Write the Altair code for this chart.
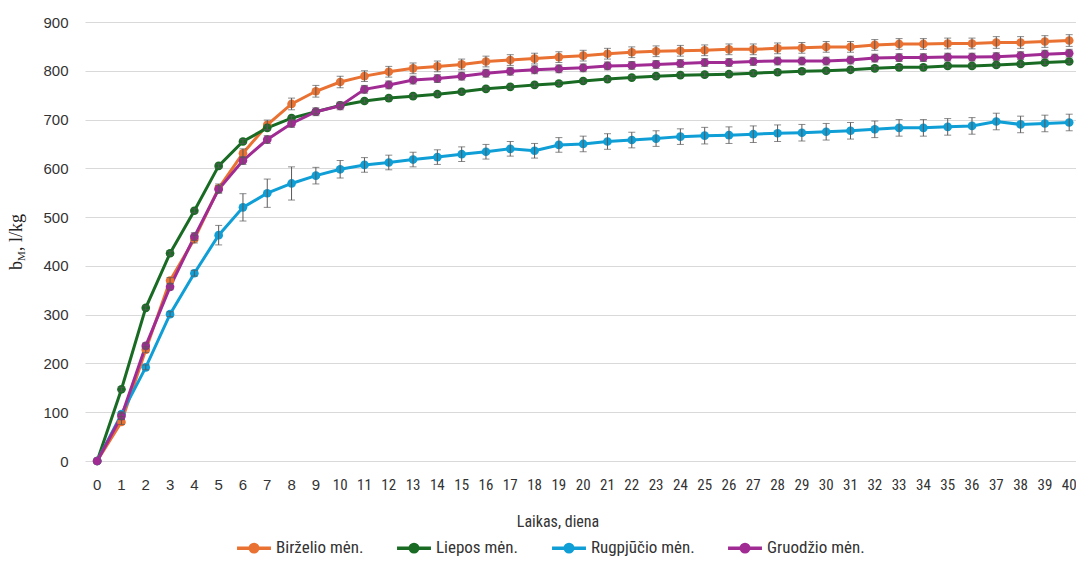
import altair as alt
import pandas as pd

days = list(range(41))
series_names = ["Birželio mėn.", "Liepos mėn.", "Rugpjūčio mėn.", "Gruodžio mėn."]
series_colors = ["#E97132", "#196B24", "#0F9ED5", "#A02B93"]

birzelio = [0, 80, 228, 370, 455, 559, 631, 689, 732, 758, 777, 789, 798, 805, 809,
            813, 819, 822, 825, 828, 831, 835, 838, 840, 841, 842, 844, 844, 846, 847,
            849, 849, 853, 855, 855, 856, 856, 858, 858, 860, 862]
liepos = [0, 147, 314, 426, 513, 605, 655, 683, 703, 716, 729, 738, 744, 748, 752,
          757, 763, 767, 771, 774, 779, 783, 786, 789, 791, 792, 793, 795, 797, 799,
          800, 802, 805, 807, 807, 810, 810, 812, 814, 817, 819]
rugpjucio = [0, 96, 192, 301, 385, 463, 520, 549, 569, 585, 598, 607, 612, 618, 623,
             629, 634, 640, 636, 648, 650, 655, 658, 661, 665, 667, 668, 670, 672, 673,
             675, 677, 680, 683, 683, 685, 687, 696, 690, 692, 694]
gruodzio = [0, 92, 236, 357, 460, 557, 616, 659, 692, 716, 728, 762, 771, 781, 784,
            789, 795, 799, 802, 804, 806, 810, 811, 813, 815, 817, 817, 819, 820, 820,
            820, 822, 826, 827, 827, 828, 828, 829, 831, 834, 836]

birzelio_err = [0, 5, 6, 6, 8, 9, 9, 10, 12, 12, 12, 11, 11, 11, 11, 11, 11, 11, 11, 11,
                11, 11, 11, 11, 11, 11, 11, 11, 11, 11, 11, 11, 11, 11, 11, 11, 11, 12, 12, 12, 12]
liepos_err = [0] + [4] * 40
rugpjucio_err = [0, 5, 5, 5, 6, 20, 28, 29, 34, 17, 18, 15, 15, 15, 15, 15, 15, 15, 15, 15,
                 16, 16, 16, 16, 16, 17, 17, 17, 17, 17, 17, 17, 17, 17, 17, 17, 17, 17, 17, 17, 17]
gruodzio_err = [0] + [6, 6, 6, 8] + [8] * 36

x_title = "Laikas, diena"
y_title_parts = ["b", "M", ", l/kg"]
y_ticks = [0, 100, 200, 300, 400, 500, 600, 700, 800, 900]

NARROW = "Liberation Sans Narrow, Roboto Condensed, DejaVu Sans Condensed, sans-serif"
REG = "Liberation Sans, Arial, sans-serif"
SERIF = "Liberation Serif"
TXT = "#333333"

rows = []
for name, vals, errs in zip(series_names,
                            [birzelio, liepos, rugpjucio, gruodzio],
                            [birzelio_err, liepos_err, rugpjucio_err, gruodzio_err]):
    for d, v, e in zip(days, vals, errs):
        rows.append({"day": d, "value": v, "lo": v - e, "hi": v + e, "series": name})
df = pd.DataFrame(rows)
df_err = df[df["hi"] > df["lo"]]

W, H = 991, 439
xscale = alt.Scale(domain=[-0.5, 40.28], nice=False, zero=False)
yscale = alt.Scale(domain=[0, 900], nice=False)
color = alt.Color(
    "series:N",
    scale=alt.Scale(domain=series_names, range=series_colors),
    sort=series_names,
    legend=alt.Legend(
        title=None, orient="none", legendX=150, legendY=507, direction="horizontal",
        columns=4, labelFont=NARROW, labelFontSize=17, labelColor=TXT,
        symbolType="M-1,0L1,0M-0.22,0A0.22,0.22,0,1,0,0.22,0A0.22,0.22,0,1,0,-0.22,0Z",
        symbolSize=1150, symbolStrokeWidth=3.5, columnPadding=26, labelOffset=3,
        symbolOpacity=1,
    ),
)

yaxis = alt.Axis(
    values=y_ticks, title=None, grid=True, gridColor="#D9D9D9", gridWidth=1.2,
    domain=False, ticks=False, labelFont=REG, labelFontSize=15, labelColor=TXT,
    labelPadding=17,
)

base = alt.Chart(df)
lines = base.mark_line(strokeWidth=3).encode(
    x=alt.X("day:Q", scale=xscale, axis=None),
    y=alt.Y("value:Q", scale=yscale, axis=yaxis),
    color=color,
    order="day:Q",
)
points = base.mark_point(filled=True, size=75, opacity=1).encode(
    x="day:Q", y="value:Q", color=color,
)
ebase = alt.Chart(df_err)
err_rule = ebase.mark_rule(color="#595959", strokeWidth=1).encode(
    x="day:Q", y="lo:Q", y2="hi:Q",
)
cap_lo = ebase.mark_tick(color="#595959", orient="horizontal", size=7, thickness=1).encode(
    x="day:Q", y="lo:Q",
)
cap_hi = ebase.mark_tick(color="#595959", orient="horizontal", size=7, thickness=1).encode(
    x="day:Q", y="hi:Q",
)

# x tick labels (days 0-9 regular, 10+ narrow, as in the reference)
lab_df = pd.DataFrame({"day": days, "lab": [str(d) for d in days]})
xlab_reg = alt.Chart(lab_df).transform_filter(alt.datum.day < 10).mark_text(
    font=REG, fontSize=15, color=TXT, baseline="middle", align="center"
).encode(x="day:Q", y=alt.value(H + 24), text="lab:N")
xlab_nar = alt.Chart(lab_df).transform_filter(alt.datum.day >= 10).mark_text(
    font=NARROW, fontSize=15, color=TXT, baseline="middle", align="center"
).encode(x="day:Q", y=alt.value(H + 24), text="lab:N")

xt_df = pd.DataFrame({"t": [x_title]})
xtitle = alt.Chart(xt_df).mark_text(
    font=NARROW, fontSize=16, color=TXT, baseline="middle", align="center"
).encode(text="t:N", x=alt.value(473), y=alt.value(H + 61))

t_df = pd.DataFrame({"t": y_title_parts})
t1 = alt.Chart(t_df).transform_filter(alt.datum.t == y_title_parts[0]).mark_text(
    angle=270, align="left", baseline="alphabetic", font=SERIF, fontSize=18, color="#222222"
).encode(text="t:N", x=alt.value(-63), y=alt.value(248))
t2 = alt.Chart(t_df).transform_filter(alt.datum.t == y_title_parts[1]).mark_text(
    angle=270, align="left", baseline="alphabetic", font=SERIF, fontSize=11, color="#222222"
).encode(text="t:N", x=alt.value(-60), y=alt.value(239))
t3 = alt.Chart(t_df).transform_filter(alt.datum.t == y_title_parts[2]).mark_text(
    angle=270, align="left", baseline="alphabetic", font=SERIF, fontSize=18, color="#222222"
).encode(text="t:N", x=alt.value(-63), y=alt.value(229))

chart = alt.layer(
    lines, points, err_rule, cap_lo, cap_hi, xlab_reg, xlab_nar, xtitle, t1, t2, t3
).properties(
    width=W, height=H,
    autosize=alt.AutoSizeParams(type="none"),
    padding={"left": 77, "top": 14, "right": 0, "bottom": 96},
).configure_view(stroke=None)

chart.save("out.html", embed_options={"renderer": "svg", "actions": False})
